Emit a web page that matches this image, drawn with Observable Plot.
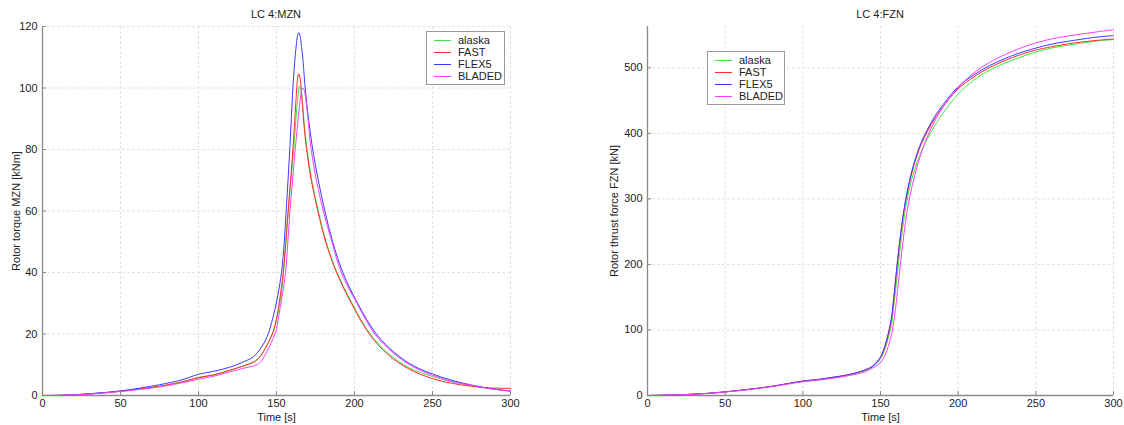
<!DOCTYPE html>
<html><head><meta charset="utf-8">
<script src="https://cdn.jsdelivr.net/npm/d3@7"></script>
<script src="https://cdn.jsdelivr.net/npm/@observablehq/plot@0.6"></script>
<style>
body{margin:0;background:#fff;font-family:"Liberation Sans",Arial,sans-serif;}
#wrap{position:relative;width:1124px;height:425px;overflow:hidden;background:#fff}
.panel{position:absolute;top:0}
.title{position:absolute;top:8px;font-size:11px;line-height:12px;color:#222;transform:translateX(-50%);white-space:nowrap}
.legend{position:absolute;border:1px solid #999;background:#fff;font-size:11px;color:#222;box-sizing:border-box;padding:2px 0}
.legend .row{height:12px;line-height:12px;display:flex;align-items:center;white-space:nowrap}
.legend .sw{display:inline-block;width:17px;height:0;border-top:1px solid;margin:0 7px 0 7px}
</style></head>
<body><div id="wrap"></div>
<script>
// ---- data ----
const seriesNames = ["alaska", "FAST", "FLEX5", "BLADED"];
const seriesColors = ["#3ee83e", "#ff2a2a", "#3a3aff", "#ff3cff"];
const xTicks = [0, 50, 100, 150, 200, 250, 300];
const mznTicks = [0, 20, 40, 60, 80, 100, 120];
const fznTicks = [0, 100, 200, 300, 400, 500];

// Rotor torque MZN [kNm]  [t, value]
const mznAlaska = [[0,0],[10,0.05],[25,0.35],[50,1.4],[75,3],[90,4.5],[100,5.9],[110,6.8],[120,8.2],[130,9.9],[136.5,11.2],[140,13],[143,15.5],[146,18.5],[148.5,21.5],[151,27],[153,33],[154.5,40],[156,50],[157.5,60],[159.3,70],[161,80],[162.5,90],[163.6,96.5],[164.7,100.6],[165.6,99.5],[166.5,96],[167.5,90],[169.6,80],[172.6,70],[176.8,60],[181.8,50],[188.8,40],[198.5,30],[210,20],[222,13.6],[235,9],[250,6.2],[262,4.5],[275,3.2],[287,2.2],[300,1.5]];
const mznFast = [[0,0],[10,0.05],[25,0.35],[50,1.4],[75,3],[90,4.5],[100,5.8],[110,6.7],[120,8.2],[130,9.8],[136.5,11.2],[140,13],[143,15.5],[146,18.5],[148,21],[150,25],[152,31],[154.3,40],[156,50],[157.5,60],[159,70],[160.5,80],[162,92],[163,100],[163.6,103.5],[164.2,104.6],[165,103.5],[165.8,100],[167,92],[167.6,88],[169.3,80],[172.3,70],[176.5,60],[181.5,50],[188.5,40],[198,30],[209.5,20],[221,13.5],[235,8.6],[250,5.5],[262,4],[275,3],[285,2.5],[300,2.3]];
const mznFlex5 = [[0,0],[10,0.05],[25,0.4],[50,1.5],[75,3.5],[90,5.2],[100,6.9],[110,7.9],[120,9.2],[130,11.2],[135.5,12.7],[140,15.5],[143,18],[145,20.5],[147,24],[149,28],[151,33],[153.2,40],[155,50],[156.2,60],[157.4,70],[158.5,80],[159.5,90],[160.5,100],[161.6,108],[162.6,113.5],[163.5,117],[164.3,118],[165.2,116.8],[166,113.5],[166.8,110],[168.4,100],[170.5,90],[173.2,80],[176.8,70],[181,60],[186,50],[192.5,40],[202,30],[214,20],[226,13.8],[238,9.6],[250,7],[262,5],[275,3.4],[287,2.3],[300,1.4]];
const mznBladed = [[0,0],[10,0.04],[25,0.3],[50,1.3],[75,2.8],[90,4.2],[100,5.3],[110,6.3],[120,7.7],[130,9],[137.6,10],[140,11],[143,13.5],[146,16.5],[149.4,20.5],[151.5,26],[153.5,32],[155.8,40],[157.3,50],[158.6,60],[160.3,70],[162,80],[163.5,88],[164.6,93.5],[165.5,97.5],[166.3,99.6],[167,100],[167.8,99.2],[168.6,97],[170,91],[172.2,80],[175.6,70],[180,60],[185.5,50],[191.5,40],[201.5,30],[213,20],[225,13.8],[237,9.5],[250,6.6],[262,4.6],[275,3.3],[287,2.2],[300,1.4]];

// Rotor thrust force FZN [kN]  [t, value]
const fznAlaska = [[0,0],[20,1],[40,3.5],[60,8],[80,14],[100,21.5],[110,24],[120,27.5],[130,31.5],[140,38],[145,44],[150,56],[153,72],[155,88],[157,108],[159,145],[161,188],[163,232],[165,268],[167,297],[170,329],[175,365],[180,391],[185,412],[190,430],[200,460],[210,481],[220,496],[230,507],[240,516],[250,524],[260,530],[275,536],[290,541],[300,543]];
const fznFast = [[0,0],[20,1],[40,3.5],[60,8],[80,14],[100,22],[110,24.5],[120,28],[130,32],[140,39],[145,45],[150,58],[153,75],[155,92],[157,115],[159,158],[161,205],[163,245],[165,280],[167,306],[170,338],[175,376],[180,402],[185,423],[190,440],[200,468],[210,486],[220,500],[230,511],[240,520],[250,527],[260,532],[275,538],[290,542],[300,544]];
const fznFlex5 = [[0,0],[20,1],[40,3.5],[60,8],[80,14],[100,22],[110,24.5],[120,28],[130,32],[140,39],[145,45],[150,59],[153,77],[155,95],[157,118],[159,160],[161,207],[163,247],[165,282],[167,309],[170,341],[175,379],[180,405],[185,426],[190,443],[200,471],[210,489],[220,503],[230,514],[240,523],[250,530],[260,536],[275,542],[290,547],[300,549]];
const fznBladed = [[0,0],[20,0.9],[40,3.3],[60,7.6],[80,13.5],[100,21],[110,23.5],[120,26.5],[130,30.5],[140,36],[145,42],[150,50],[153,62],[155,75],[157,92],[159,120],[161,160],[163,205],[165,245],[167,279],[169,305],[172,336],[175,361],[180,394],[185,419],[190,439],[200,470],[210,492],[220,508],[230,520],[240,530],[250,538],[260,544],[275,550],[290,555],[300,558]];

// ---- build ----
function rows(list) {
  const out = [];
  list.forEach((pts, i) => pts.forEach(([t, v]) => out.push({series: seriesNames[i], t, v})));
  return out;
}
const W = 562, H = 425, MT = 26, MB = 30;
function panel({data, yDomain, yTicks, yLabel, marginLeft, marginRight, yLabelOffset}) {
  const innerW = W - marginLeft - marginRight, innerH = H - MT - MB;
  return Plot.plot({
    width: W, height: H, marginLeft, marginRight, marginTop: MT, marginBottom: MB,
    style: {fontFamily: '"Liberation Sans", Arial, sans-serif', fontSize: "11px", color: "#222", background: "transparent", overflow: "visible"},
    x: {domain: [0, 300], ticks: xTicks, tickSize: 0, tickPadding: 4, label: "Time [s]", labelAnchor: "center", labelArrow: "none", labelOffset: 25},
    y: {domain: yDomain, ticks: yTicks, tickSize: 0, tickPadding: 5, label: yLabel, labelAnchor: "center", labelArrow: "none", labelOffset: yLabelOffset},
    color: {domain: seriesNames, range: seriesColors},
    marks: [
      Plot.gridX(xTicks, {stroke: "#e2e2e2", strokeOpacity: 1, strokeDasharray: "3,2"}),
      Plot.gridY(yTicks, {stroke: "#e2e2e2", strokeOpacity: 1, strokeDasharray: "3,2"}),
      Plot.tickX(xTicks, {x: d => d, stroke: "#8a8a8a", insetTop: innerH - 4}),
      Plot.tickY(yTicks, {y: d => d, stroke: "#8a8a8a", insetRight: innerW - 4}),
      Plot.ruleX([0], {stroke: "#8a8a8a", strokeWidth: 1.3}),
      Plot.ruleY([0], {stroke: "#8a8a8a", strokeWidth: 1.3}),
      Plot.line(data, {x: "t", y: "v", z: "series", stroke: "series", strokeWidth: 1, curve: "catmull-rom"})
    ]
  });
}

const wrap = document.getElementById("wrap");
function place(el, left) { el.classList.add("panel"); el.style.left = left + "px"; wrap.appendChild(el); }

place(panel({data: rows([mznAlaska, mznFast, mznFlex5, mznBladed]), yDomain: [0, 120], yTicks: mznTicks,
  yLabel: "Rotor torque MZN [kNm]", marginLeft: 42, marginRight: 52, yLabelOffset: 30}), 0);
place(panel({data: rows([fznAlaska, fznFast, fznFlex5, fznBladed]), yDomain: [0, 563], yTicks: fznTicks,
  yLabel: "Rotor thrust force FZN [kN]", marginLeft: 85, marginRight: 11, yLabelOffset: 37}), 562);

function title(text, cx) {
  const d = document.createElement("div"); d.className = "title"; d.textContent = text; d.style.left = cx + "px"; wrap.appendChild(d);
}
title("LC 4:MZN", 276);
title("LC 4:FZN", 880);

function legend(left, top, width) {
  const d = document.createElement("div"); d.className = "legend";
  d.style.left = left + "px"; d.style.top = top + "px"; d.style.width = width + "px";
  seriesNames.forEach((n, i) => {
    const r = document.createElement("div"); r.className = "row";
    const s = document.createElement("span"); s.className = "sw"; s.style.borderTopColor = seriesColors[i];
    const t = document.createElement("span"); t.textContent = n;
    r.appendChild(s); r.appendChild(t); d.appendChild(r);
  });
  wrap.appendChild(d);
}
legend(426, 31, 79);
legend(707, 51, 78);
</script></body></html>
